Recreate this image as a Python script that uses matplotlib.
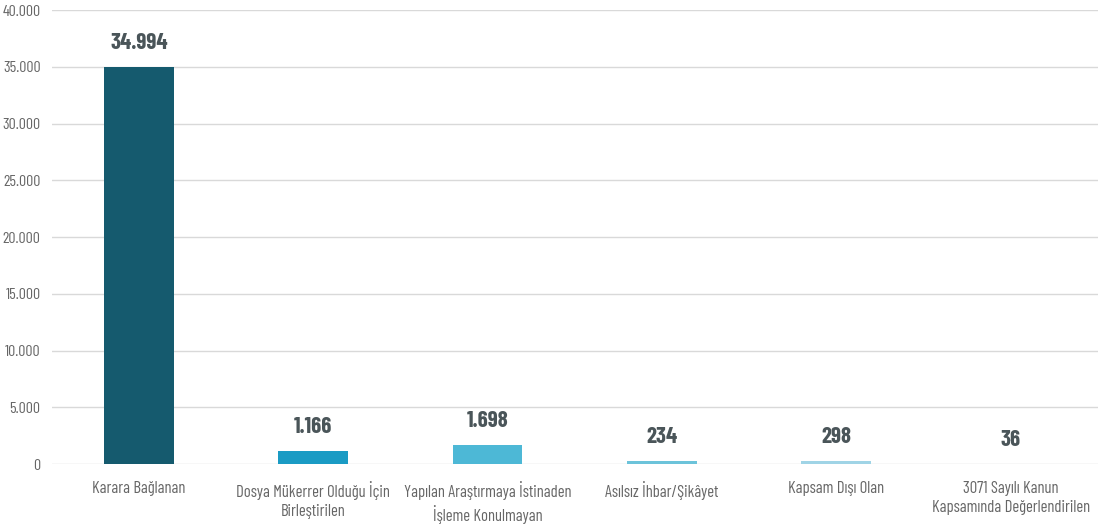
import matplotlib
matplotlib.use("Agg")
import matplotlib.pyplot as plt
from matplotlib.ticker import FuncFormatter

categories = [
    "Karara Bağlanan",
    "Dosya Mükerrer Olduğu İçin\nBirleştirilen",
    "Yapılan Araştırmaya İstinaden\nİşleme Konulmayan",
    "Asılsız İhbar/Şikâyet",
    "Kapsam Dışı Olan",
    "3071 Sayılı Kanun\nKapsamında Değerlendirilen",
]
values = [34994, 1166, 1698, 234, 298, 36]
bar_colors = ["#155a6e", "#1a9bc4", "#4db8d6", "#6cc3da", "#a0d4e6", "#cde9f3"]
yticks = [0, 5000, 10000, 15000, 20000, 25000, 30000, 35000, 40000]

plt.rcParams["font.family"] = ["Barlow Condensed", "DejaVu Sans"]

def fmt(v):
    return f"{int(v):,}".replace(",", ".")

fig = plt.figure(figsize=(11, 5.3), dpi=100)
ax = fig.add_axes([0.047, 0.1245, 0.951, 0.8565])
x = range(len(categories))
ax.bar(x, values, width=0.4, color=bar_colors, zorder=3)
ax.set_xlim(-0.5, len(categories) - 0.5)
ax.set_ylim(0, 40000)
ax.set_yticks(yticks)
ax.yaxis.set_major_formatter(FuncFormatter(lambda v, p: fmt(v)))
ax.grid(axis="y", color="#d9d9d9", linewidth=1, zorder=0)
for s in ax.spines.values():
    s.set_visible(False)
ax.tick_params(axis="both", length=0, colors="#666666")
ax.tick_params(axis="y", pad=8, labelsize=11.5)
ax.tick_params(axis="x", pad=12, labelsize=12)
ax.set_xticks(list(x))
ax.set_xticklabels(categories, linespacing=1.35)
for xi, v in zip(x, values):
    ax.annotate(fmt(v), (xi, v), xytext=(0, 10), textcoords="offset points",
                ha="center", va="bottom", fontsize=16.5, fontweight="bold",
                color="#4a5559")
fig.savefig("out.png", dpi=100)
